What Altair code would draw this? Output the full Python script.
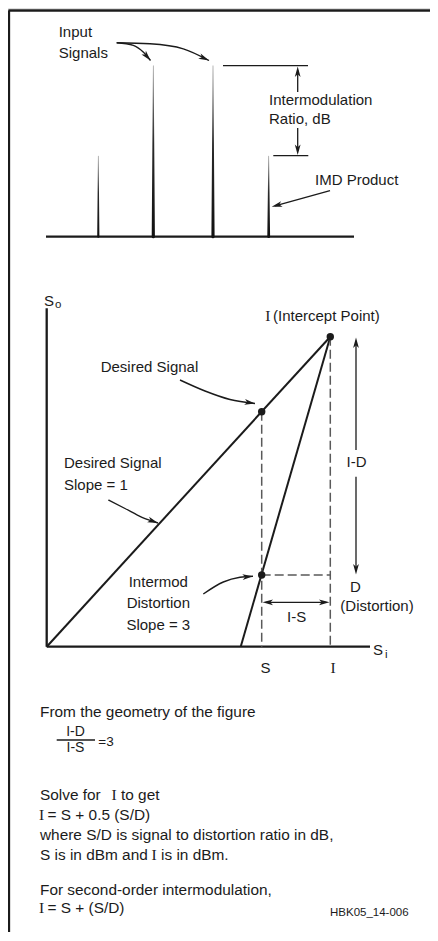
import math
import altair as alt
import pandas as pd

# ---------------- values (drawing units = pixels of the original) -------------
# Spectrum panel: two input signals (tall) and two IMD products (short)
spike_x = [98.3, 153.3, 213.0, 268.7]
spike_top = [156.0, 65.7, 65.7, 156.0]
spike_base_w = [2.2, 3.2, 3.2, 2.8]
spectrum_floor = 236.7
spectrum_span = [46.0, 354.0]
level_lines = [(223.0, 308.0, 65.7), (273.3, 308.3, 155.7)]  # x1, x2, y

# Intercept diagram
origin = (46.7, 646.7)
so_axis_top = 308.3
si_axis_end = 370.0
intercept = (330.3, 336.7)
im_start_x = 240.7
desired_pt = (261.7, 411.7)
imd_pt = (261.7, 575.0)
id_arrow_x = 356.0
id_gap = (450.0, 476.7)
is_arrow_y = 602.3

# frame
frame_left_x = 9.0
frame_top_y = 10.5
frame_right = 430.0
frame_bottom = 932.0

# curved leader arrows (points along each curve)
curves = {
    "c1": [(116.7, 42.7), (133.3, 45.3), (143.5, 52.3), (150.5, 60.5)],
    "c2": [(116.7, 42.7), (150.0, 43.8), (183.3, 48.8), (209.0, 60.5)],
    "c3": [(180.0, 380.0), (205.0, 391.0), (230.0, 399.5), (255.0, 403.5)],
    "c4": [(108.3, 500.0), (125.0, 508.5), (142.0, 517.3), (158.0, 523.0)],
    "c5": [(203.3, 594.0), (223.3, 582.0), (240.0, 577.3), (253.0, 576.3)],
}

# text labels inside the drawing
labels_sans_left = [
    (58.7, 31.8, "Input"), (58.7, 52.8, "Signals"),
    (269.0, 99.7, "Intermodulation"), (269.0, 118.8, "Ratio, dB"),
    (315.0, 179.7, "IMD Product"),
    (273.0, 315.7, "(Intercept Point)"),
    (100.7, 366.7, "Desired Signal"),
    (64.0, 463.3, "Desired Signal"), (64.0, 485.3, "Slope = 1"),
    (44.0, 300.8, "S"), (373.0, 649.5, "S"),
]
# text block under the drawing
labels_note = [
    (40.0, 711.7, "From the geometry of the figure"),
    (40.0, 795.3, "Solve for"), (121.0, 795.3, "to get"),
    (47.5, 815.0, "= S + 0.5 (S/D)"),
    (40.0, 835.0, "where S/D is signal to distortion ratio in dB,"),
    (40.0, 855.0, "S is in dBm and"), (161.0, 855.0, "is in dBm."),
    (40.0, 890.0, "For second-order intermodulation,"),
    (47.5, 908.3, "= S + (S/D)"),
]
labels_sans_center = [
    (356.5, 461.7, "I-D"), (158.3, 581.7, "Intermod"), (158.3, 603.3, "Distortion"),
    (158.3, 625.0, "Slope = 3"), (355.5, 586.7, "D"), (377.0, 606.0, "(Distortion)"),
    (296.7, 617.0, "I-S"), (265.5, 667.7, "S"),
]
labels_serif_center = [
    (267.8, 315.7, "I"), (333.0, 667.7, "I"), (114.0, 795.3, "I"),
    (41.7, 815.0, "I"), (154.0, 855.0, "I"), (41.7, 908.3, "I"),
]
labels_small_center = [(75.5, 732.4, "I-D"), (75.5, 747.6, "I-S")]
labels_small_left = [(98.3, 741.7, "=3")]
labels_sub = [(55.0, 304.5, "o"), (385.0, 654.5, "i")]
credit = [(330.0, 912.5, "HBK05_14-006")]
fraction_bar = (56.7, 95.0, 740.0)

INK = "#1b1b1b"
GREY = "#5a5a5a"
SANS = "Liberation Sans"
SERIF = "Liberation Serif"
ARROW = "M0,0 L0.55,2 L0,1.5 L-0.55,2 Z"

# ---------------- tables built from the values ----------------
thick = pd.DataFrame([
    dict(x=frame_left_x - 0.5, y=frame_top_y, x2=frame_right, y2=frame_top_y),
    dict(x=frame_left_x, y=frame_top_y, x2=frame_left_x, y2=frame_bottom),
    dict(x=spectrum_span[0], y=spectrum_floor, x2=spectrum_span[1], y2=spectrum_floor),
    dict(x=origin[0], y=so_axis_top, x2=origin[0], y2=origin[1]),
    dict(x=origin[0], y=origin[1], x2=si_axis_end, y2=origin[1]),
])
medium = pd.DataFrame([
    dict(x=origin[0], y=origin[1], x2=intercept[0], y2=intercept[1]),
    dict(x=im_start_x, y=origin[1], x2=intercept[0], y2=intercept[1]),
])
thin_rows = [dict(x=a, y=yy, x2=b, y2=yy) for a, b, yy in level_lines]
thin_rows += [
    dict(x=297.7, y=92.0, x2=297.7, y2=70.0),
    dict(x=297.7, y=128.0, x2=297.7, y2=151.0),
    dict(x=330.0, y=190.7, x2=275.0, y2=205.8),
    dict(x=id_arrow_x, y=intercept[1] + 4, x2=id_arrow_x, y2=id_gap[0]),
    dict(x=id_arrow_x, y=id_gap[1], x2=id_arrow_x, y2=imd_pt[1] - 4),
    dict(x=desired_pt[0] + 4, y=is_arrow_y, x2=intercept[0] - 4, y2=is_arrow_y),
    dict(x=fraction_bar[0], y=fraction_bar[2], x2=fraction_bar[1], y2=fraction_bar[2]),
]
thin = pd.DataFrame(thin_rows)
dashed = pd.DataFrame([
    dict(x=desired_pt[0], y=desired_pt[1], x2=desired_pt[0], y2=origin[1]),
    dict(x=intercept[0], y=intercept[1], x2=intercept[0], y2=origin[1]),
    dict(x=imd_pt[0], y=imd_pt[1], x2=intercept[0], y2=imd_pt[1]),
])

spikes = pd.DataFrame(
    [dict(sid=i, o=0, x=sx, y=spectrum_floor, w=w) for i, (sx, w) in enumerate(zip(spike_x, spike_base_w))]
    + [dict(sid=i, o=1, x=sx, y=t, w=0.7) for i, (sx, t) in enumerate(zip(spike_x, spike_top))]
)

curve_df = pd.DataFrame([dict(cid=c, i=i, x=p[0], y=p[1]) for c, pts in curves.items() for i, p in enumerate(pts)])


def heading(frm, tip):
    dx, dy = tip[0] - frm[0], tip[1] - frm[1]
    return math.degrees(math.atan2(dx, -dy)) % 360


heads = [
    ((297.7, 90.0), (297.7, 66.5)),
    ((297.7, 130.0), (297.7, 155.0)),
    ((330.0, 190.7), (271.7, 206.7)),
    ((id_arrow_x, 400.0), (id_arrow_x, intercept[1] + 0.8)),
    ((id_arrow_x, 520.0), (id_arrow_x, imd_pt[1] - 0.5)),
    ((300.0, is_arrow_y), (desired_pt[0] + 0.8, is_arrow_y)),
    ((300.0, is_arrow_y), (intercept[0] - 0.8, is_arrow_y)),
]
for pts in curves.values():
    heads.append((pts[-2], pts[-1]))
head_df = pd.DataFrame([dict(x=t[0], y=t[1], angle=heading(f, t)) for f, t in heads])

dots = pd.DataFrame([dict(x=p[0], y=p[1]) for p in (intercept, desired_pt, imd_pt)])


def tdf(rows):
    return pd.DataFrame([dict(x=a, y=b, t=s) for a, b, s in rows])


# ---------------- chart ----------------
xs = alt.Scale(domain=[8, 430], nice=False, zero=False)
ys = alt.Scale(domain=[932, 8], nice=False, zero=False)


def X(f="x"):
    return alt.X(f"{f}:Q", scale=xs, axis=None)


def Y(f="y"):
    return alt.Y(f"{f}:Q", scale=ys, axis=None)


def rules(df, width, color=INK, dash=None):
    kw = dict(strokeWidth=width, color=color, strokeCap="butt")
    if dash:
        kw["strokeDash"] = dash
    return alt.Chart(df).mark_rule(**kw).encode(x=X(), y=Y(), x2=alt.X2("x2:Q"), y2=alt.Y2("y2:Q"))


def texts(rows, size, font=SANS, align="left"):
    return alt.Chart(tdf(rows)).mark_text(
        font=font, fontSize=size, align=align, baseline="middle", color=INK
    ).encode(x=X(), y=Y(), text="t:N")


spike_fill = alt.Gradient(
    gradient="linear", x1=0, x2=0, y1=0, y2=1,
    stops=[alt.GradientStop(color="#9a9a9a", offset=0),
           alt.GradientStop(color="#2a2a2a", offset=0.45),
           alt.GradientStop(color="#111111", offset=1)],
)

layers = [
    rules(thick, 2.3),
    rules(medium, 2.0),
    rules(thin, 1.3),
    rules(dashed, 1.5, GREY, [9, 4]),
    alt.Chart(spikes).mark_trail(color=spike_fill).encode(
        x=X(), y=Y(), size=alt.Size("w:Q", scale=None, legend=None),
        detail="sid:N", order="o:Q"),
    alt.Chart(curve_df).mark_line(interpolate="monotone", strokeWidth=1.4, color=INK).encode(
        x=X(), y=Y(), detail="cid:N", order="i:Q"),
    alt.Chart(head_df).mark_point(shape=ARROW, filled=True, size=110, opacity=1,
                                  strokeWidth=0, color=INK).encode(
        x=X(), y=Y(), angle=alt.Angle("angle:Q", scale=None)),
    alt.Chart(dots).mark_circle(size=55, opacity=1, color=INK).encode(x=X(), y=Y()),
    texts(labels_sans_left, 15),
    texts(labels_note, 15.4),
    texts(labels_sans_center, 15, align="center"),
    texts(labels_serif_center, 15.5, font=SERIF, align="center"),
    texts(labels_small_center, 14, align="center"),
    texts(labels_small_left, 13.5),
    texts(labels_sub, 11.5),
    texts(credit, 11.5),
]

chart = alt.layer(*layers).properties(
    width=422, height=924, padding=0, autosize=alt.AutoSizeParams(type="none")
).configure_view(stroke=None).configure(background="white")

chart.save("out.html", embed_options={"renderer": "svg", "actions": False})
